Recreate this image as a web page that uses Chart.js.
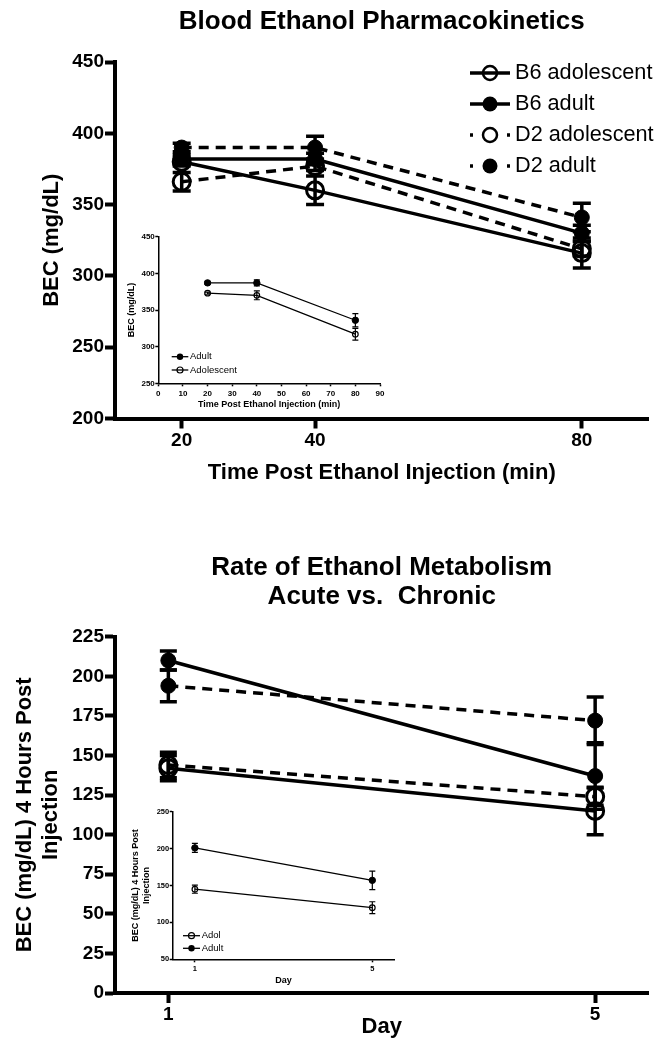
<!DOCTYPE html>
<html>
<head>
<meta charset="utf-8">
<title>Blood Ethanol Pharmacokinetics</title>
<script src="https://cdn.jsdelivr.net/npm/chart.js@4.4.1/dist/chart.umd.min.js"></script>
<style>
  html, body { margin: 0; padding: 0; background: #fff; }
  #page { position: relative; width: 660px; height: 1050px; background: #fff; }
  canvas { position: absolute; }
</style>
</head>
<body>
<div id="page">
  <canvas id="pkChart" width="660" height="500" style="left:0;top:0"></canvas>
  <canvas id="pkInset" width="285" height="193" style="left:110px;top:222px"></canvas>
  <canvas id="rateChart" width="660" height="530" style="left:0;top:520px"></canvas>
  <canvas id="rateInset" width="285" height="192" style="left:120px;top:798px"></canvas>
</div>
<script>
// --- data: blood ethanol time course (mg/dL) ---
const timeMin = [20, 40, 80];
const timeTicks = [20, 40, 80];
const b6AdolBEC = [380, 360, 316];
const b6AdolSEM = [3, 10, 10.5];
const b6AdultBEC = [382, 382, 330];
const b6AdultSEM = [3, 4, 5.5];
const d2AdolBEC = [366, 377, 319];
const d2AdolSEM = [6.5, 3, 5];
const d2AdultBEC = [390, 390, 341];
const d2AdultSEM = [3, 8, 10];

// inset: strains pooled
const insetTimeTicks = [0, 10, 20, 30, 40, 50, 60, 70, 80, 90];
const insetAdultBEC = [387, 387, 336];
const insetAdultSEM = [2, 4, 9];
const insetAdolBEC = [373, 370, 317];
const insetAdolSEM = [1.5, 6, 8];

// --- data: BEC 4 h post injection, day 1 vs day 5 ---
const days = [1, 5];
const dayTicks = [1, 5];
const b6AdolRate = [142, 115];
const b6AdolRateSEM = [8, 15];
const b6AdultRate = [210, 137];
const b6AdultRateSEM = [6, 21];
const d2AdolRate = [144, 124];
const d2AdolRateSEM = [8, 5.5];
const d2AdultRate = [194, 172];
const d2AdultRateSEM = [10, 15];

const insetAdolRate = [145, 120];
const insetAdolRateSEM = [5.5, 8];
const insetAdultRate = [201, 157];
const insetAdultRateSEM = [6, 12.5];

Chart.defaults.font.family = 'Liberation Sans, Arial, Helvetica, sans-serif';
Chart.defaults.color = '#000';

const pts = (xs, ys) => xs.map((x, i) => ({ x: x, y: ys[i] }));

// one line series with markers; sizes passed in (main vs inset)
function series(label, xs, ys, errs, filled, dashed, s) {
  return {
    label: label,
    data: pts(xs, ys),
    errors: errs,
    filled: filled,
    borderColor: '#000',
    borderWidth: s.lw,
    borderDash: dashed ? s.dash : [],
    pointStyle: 'circle',
    pointRadius: filled ? s.rFill : s.rOpen,
    pointBorderWidth: filled ? 1 : s.openLw,
    pointBackgroundColor: filled ? '#000' : 'rgba(0,0,0,0)',
    pointBorderColor: '#000',
    showLine: true,
    tension: 0,
    fill: false
  };
}

function axis(o) {
  const a = {
    type: 'linear',
    min: o.min,
    max: o.max,
    afterFit: o.fit,
    ticks: {
      stepSize: o.step,
      font: { size: o.tickSize, weight: 'bold' },
      padding: o.tickPad,
      autoSkip: false,
      maxRotation: 0,
      color: '#000'
    },
    grid: { drawOnChartArea: false, drawTicks: true, tickLength: o.tickLen, tickWidth: o.lw, tickColor: '#000' },
    border: { display: true, color: '#000', width: o.lw },
    title: {
      display: true,
      text: o.title,
      font: { size: o.titleSize, weight: 'bold', lineHeight: o.titleLH || 1.2 },
      padding: o.titlePad,
      color: '#000'
    }
  };
  if (o.ticksAt) a.afterBuildTicks = s => { s.ticks = o.ticksAt.map(v => ({ value: v })); };
  return a;
}

// vertical SEM bars, drawn under the markers
const errorBars = {
  id: 'errorBars',
  beforeDatasetsDraw(chart, args, o) {
    const ctx = chart.ctx;
    const ys = chart.scales.y;
    chart.data.datasets.forEach((ds, i) => {
      if (!ds.errors) return;
      const meta = chart.getDatasetMeta(i);
      ctx.save();
      ctx.strokeStyle = '#000';
      ctx.lineWidth = o.width;
      ctx.setLineDash([]);
      meta.data.forEach((pt, j) => {
        const v = ds.data[j].y, e = ds.errors[j];
        const y1 = ys.getPixelForValue(v + e), y2 = ys.getPixelForValue(v - e);
        ctx.beginPath();
        ctx.moveTo(pt.x, y1); ctx.lineTo(pt.x, y2);
        ctx.moveTo(pt.x - o.cap, y1); ctx.lineTo(pt.x + o.cap, y1);
        ctx.moveTo(pt.x - o.cap, y2); ctx.lineTo(pt.x + o.cap, y2);
        ctx.stroke();
      });
      ctx.restore();
    });
  }
};

// legend entries drawn as line + marker + label
const lineLegend = {
  id: 'lineLegend',
  afterDraw(chart, args, o) {
    if (!o.rows) return;
    const ctx = chart.ctx;
    o.rows.forEach((idx, k) => {
      const ds = chart.data.datasets[idx];
      const y = o.y + k * o.rowH;
      const cx = o.x + o.len / 2;
      ctx.save();
      ctx.strokeStyle = '#000';
      ctx.fillStyle = '#000';
      ctx.lineWidth = o.lineWidth;
      ctx.setLineDash(ds.borderDash.length ? [o.dot, o.len - 2 * o.dot] : []);
      ctx.beginPath(); ctx.moveTo(o.x, y); ctx.lineTo(o.x + o.len, y); ctx.stroke();
      ctx.setLineDash([]);
      ctx.beginPath();
      if (ds.filled) {
        ctx.arc(cx, y, o.rFill, 0, Math.PI * 2);
        ctx.fill();
      } else {
        ctx.lineWidth = o.openLw;
        ctx.arc(cx, y, o.rOpen, 0, Math.PI * 2);
        ctx.stroke();
      }
      ctx.font = o.font;
      ctx.textBaseline = 'middle';
      ctx.textAlign = 'left';
      ctx.fillText(ds.label, o.x + o.len + o.gap, y);
      ctx.restore();
    });
  }
};

const mainStyle = { lw: 3.5, dash: [10, 7], rFill: 7.5, rOpen: 8.5, openLw: 3 };
const insetStyle = { lw: 1.3, dash: [], rFill: 3.2, rOpen: 2.8, openLw: 1.2 };

const common = {
  responsive: false,
  animation: false,
  events: [],
};

// Gráfico principal: curso temporal
new Chart(document.getElementById('pkChart'), {
  type: 'scatter',
  data: {
    datasets: [
      series('B6 adolescent', timeMin, b6AdolBEC, b6AdolSEM, false, false, mainStyle),
      series('B6 adult', timeMin, b6AdultBEC, b6AdultSEM, true, false, mainStyle),
      series('D2 adolescent', timeMin, d2AdolBEC, d2AdolSEM, false, true, mainStyle),
      series('D2 adult', timeMin, d2AdultBEC, d2AdultSEM, true, true, mainStyle)
    ]
  },
  plugins: [errorBars, lineLegend],
  options: {
    ...common,
    layout: { padding: { left: 0, right: 9, top: 0, bottom: 0 } },
    scales: {
      x: axis({ min: 10, max: 90, ticksAt: timeTicks, tickSize: 19, tickPad: 1, tickLen: 10, lw: 4,
                title: 'Time Post Ethanol Injection (min)', titleSize: 22, titlePad: { top: 0, bottom: 13.8 },
                fit: s => { s.height = 81.5; } }),
      y: axis({ min: 200, max: 450, step: 50, tickSize: 19, tickPad: 1, tickLen: 10, lw: 4,
                title: 'BEC (mg/dL)', titleSize: 22, titlePad: { top: 38.8, bottom: 0 },
                fit: s => { s.width = 115; } })
    },
    plugins: {
      legend: { display: false },
      tooltip: { enabled: false },
      title: {
        display: true, fullSize: false,
        text: 'Blood Ethanol Pharmacokinetics',
        font: { size: 26, weight: 'bold', lineHeight: 1.2 },
        padding: { top: 6.4, bottom: 24.4 },
        color: '#000'
      },
      errorBars: { width: 3.5, cap: 9 },
      lineLegend: { rows: [0, 1, 2, 3], x: 470, y: 73, rowH: 31, len: 40, gap: 5, dot: 3,
                    lineWidth: 3.5, rFill: 7.5, rOpen: 7, openLw: 2.5,
                    font: '21.7px "Liberation Sans", Arial, sans-serif' }
    }
  }
});

// Recuadro: adultos vs adolescentes
new Chart(document.getElementById('pkInset'), {
  type: 'scatter',
  data: {
    datasets: [
      series('Adult', timeMin, insetAdultBEC, insetAdultSEM, true, false, insetStyle),
      series('Adolescent', timeMin, insetAdolBEC, insetAdolSEM, false, false, insetStyle)
    ]
  },
  plugins: [errorBars, lineLegend],
  options: {
    ...common,
    layout: { padding: { left: 0, right: 15, top: 14.7, bottom: 0 } },
    scales: {
      x: axis({ min: 0, max: 90, ticksAt: insetTimeTicks, tickSize: 8, tickPad: 2.5, tickLen: 3, lw: 1.5,
                title: 'Time Post Ethanol Injection (min)', titleSize: 9, titlePad: { top: 0, bottom: 4.6 },
                fit: s => { s.height = 31.7; } }),
      y: axis({ min: 250, max: 450, step: 50, tickSize: 8, tickPad: 0.5, tickLen: 3, lw: 1.5,
                title: 'BEC (mg/dL)', titleSize: 9, titlePad: { top: 16.3, bottom: 0 },
                fit: s => { s.width = 48.3; } })
    },
    plugins: {
      legend: { display: false },
      tooltip: { enabled: false },
      title: { display: false },
      errorBars: { width: 1.2, cap: 3 },
      lineLegend: { rows: [0, 1], x: 61.7, y: 134.7, rowH: 13.3, len: 16.6, gap: 1.7, dot: 2,
                    lineWidth: 1.3, rFill: 3.2, rOpen: 3, openLw: 1.2,
                    font: '9.5px "Liberation Sans", Arial, sans-serif' }
    }
  }
});

// Gráfico principal: día 1 vs día 5
new Chart(document.getElementById('rateChart'), {
  type: 'scatter',
  data: {
    datasets: [
      series('B6 adolescent', days, b6AdolRate, b6AdolRateSEM, false, false, mainStyle),
      series('B6 adult', days, b6AdultRate, b6AdultRateSEM, true, false, mainStyle),
      series('D2 adolescent', days, d2AdolRate, d2AdolRateSEM, false, true, mainStyle),
      series('D2 adult', days, d2AdultRate, d2AdultRateSEM, true, true, mainStyle)
    ]
  },
  plugins: [errorBars],
  options: {
    ...common,
    layout: { padding: { left: 0, right: 9, top: 0, bottom: 0 } },
    scales: {
      x: axis({ min: 0.5, max: 5.5, ticksAt: dayTicks, tickSize: 19, tickPad: 0, tickLen: 10, lw: 4,
                title: 'Day', titleSize: 22, titlePad: { top: 0, bottom: 9.5 },
                fit: s => { s.height = 57; } }),
      y: axis({ min: 0, max: 225, step: 25, tickSize: 19, tickPad: 1, tickLen: 10, lw: 4,
                title: ['BEC (mg/dL) 4 Hours Post', 'Injection'], titleSize: 22, titlePad: { top: 11.8, bottom: 0 },
                fit: s => { s.width = 115; } })
    },
    plugins: {
      legend: { display: false },
      tooltip: { enabled: false },
      title: {
        display: true, fullSize: false,
        text: ['Rate of Ethanol Metabolism', 'Acute vs.  Chronic'],
        font: { size: 26, weight: 'bold', lineHeight: 1.1 },
        padding: { top: 34, bottom: 25.5 },
        color: '#000'
      },
      errorBars: { width: 3.5, cap: 8.5 }
    }
  }
});

// Recuadro: adolescentes vs adultos por día
new Chart(document.getElementById('rateInset'), {
  type: 'scatter',
  data: {
    datasets: [
      series('Adol', days, insetAdolRate, insetAdolRateSEM, false, false, insetStyle),
      series('Adult', days, insetAdultRate, insetAdultRateSEM, true, false, insetStyle)
    ]
  },
  plugins: [errorBars, lineLegend],
  options: {
    ...common,
    layout: { padding: { left: 0, right: 10.5, top: 13.7, bottom: 0 } },
    scales: {
      x: axis({ min: 0.5, max: 5.5, ticksAt: dayTicks, tickSize: 7.5, tickPad: 2.5, tickLen: 3, lw: 1.5,
                title: 'Day', titleSize: 9, titlePad: { top: 0, bottom: 3.9 },
                fit: s => { s.height = 30.7; } }),
      y: axis({ min: 50, max: 250, step: 50, tickSize: 7.5, tickPad: 0.5, tickLen: 3, lw: 1.5,
                title: ['BEC (mg/dL) 4 Hours Post', 'Injection'], titleSize: 9, titleLH: 1.19,
                titlePad: { top: 10.6, bottom: 0 },
                fit: s => { s.width = 52.7; } })
    },
    plugins: {
      legend: { display: false },
      tooltip: { enabled: false },
      title: { display: false },
      errorBars: { width: 1.2, cap: 3 },
      lineLegend: { rows: [0, 1], x: 63, y: 137.7, rowH: 12.6, len: 17, gap: 1.7, dot: 2,
                    lineWidth: 1.3, rFill: 3.2, rOpen: 3, openLw: 1.2,
                    font: '9.5px "Liberation Sans", Arial, sans-serif' }
    }
  }
});
</script>
</body>
</html>
